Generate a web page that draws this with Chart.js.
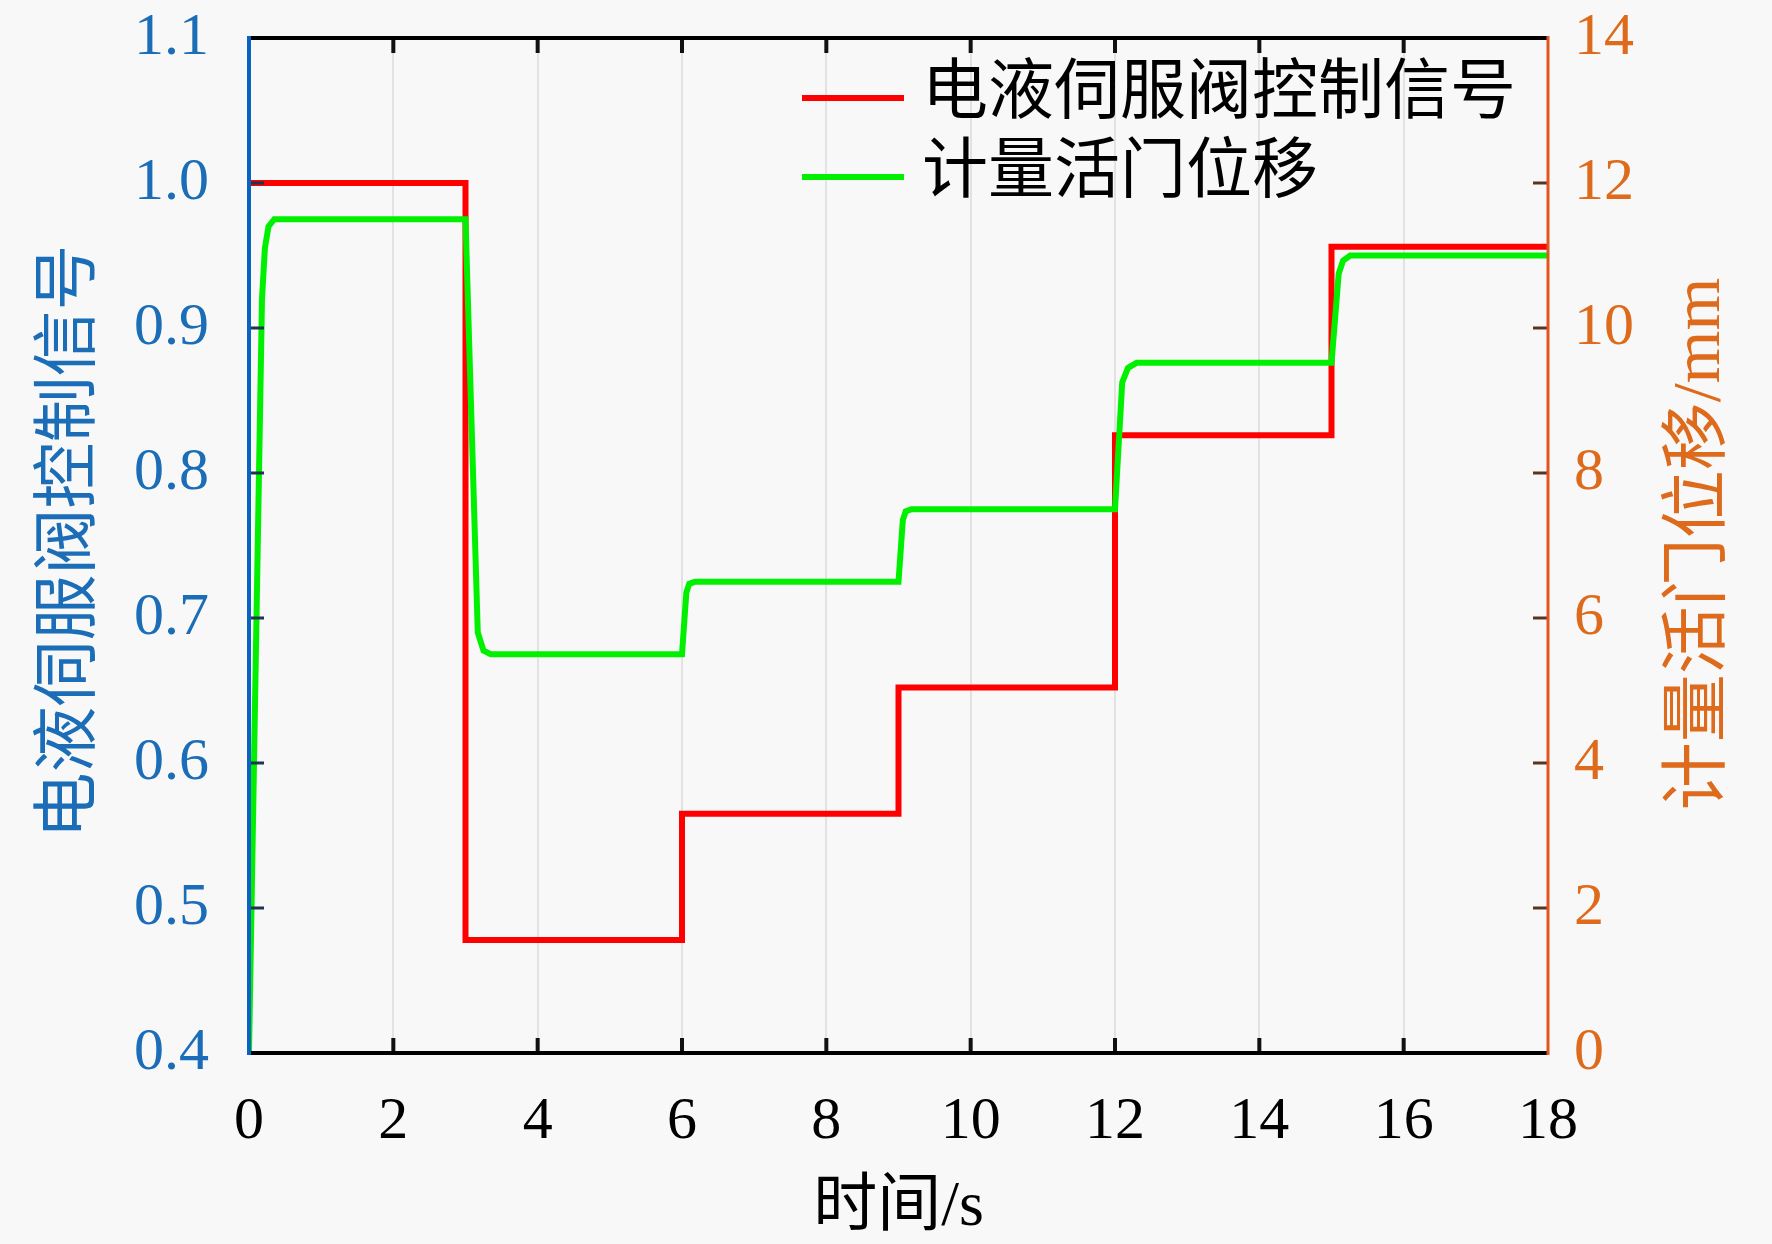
<!DOCTYPE html>
<html>
<head>
<meta charset="utf-8">
<title>电液伺服阀控制信号 / 计量活门位移</title>
<script src="https://cdn.jsdelivr.net/npm/chart.js@4/dist/chart.umd.min.js"></script>
<style>
  html, body { margin: 0; padding: 0; background: #f8f8f8; }
  #wrap { width: 1772px; height: 1244px; position: relative; }
</style>
</head>
<body>
<div id="wrap"><canvas id="chart"></canvas></div>
<script>
// control signal (left axis)
const signalTime = [0, 3, 3, 6, 6, 9, 9, 12, 12, 15, 15, 18];
const signalValue = [1.0, 1.0, 0.478, 0.478, 0.565, 0.565, 0.652, 0.652, 0.826, 0.826, 0.956, 0.956];

// metering valve displacement, mm (right axis)
const valveTime = [0, 0.18, 0.22, 0.27, 0.35,
  3.0, 3.17, 3.25, 3.35,
  6.0, 6.06, 6.1, 6.18,
  9.0, 9.06, 9.1, 9.18,
  12.0, 12.1, 12.18, 12.3,
  15.0, 15.1, 15.16, 15.26, 18];
const valveValue = [0, 10.4, 11.1, 11.4, 11.5,
  11.5, 5.8, 5.55, 5.5,
  5.5, 6.35, 6.47, 6.5,
  6.5, 7.35, 7.47, 7.5,
  7.5, 9.25, 9.45, 9.52,
  9.52, 10.75, 10.93, 11.0, 11.0];

const xTicks = [0, 2, 4, 6, 8, 10, 12, 14, 16, 18];
const leftTicks = [0.4, 0.5, 0.6, 0.7, 0.8, 0.9, 1.0, 1.1];
const rightTicks = [0, 2, 4, 6, 8, 10, 12, 14];

const seriesNames = ['电液伺服阀控制信号', '计量活门位移'];
const leftTitle = '电液伺服阀控制信号';
const rightTitle = '计量活门位移/mm';
const xTitle = '时间/s';

const RED = '#ff0000', GREEN = '#00f000';
const BLUE = '#1a6db6', ORANGE = '#de6a1c';
const NUM_FONT = '"Liberation Serif", "Noto Sans CJK SC", serif';

const toPoints = (xs, ys) => xs.map((x, i) => ({ x, y: ys[i] }));

// fixed axis box sizes so the plot area lands where the figure has it
const fixBox = (w, h) => s => {
  if (w != null) s.width = w;
  if (h != null) s.height = h;
  s.paddingTop = 0; s.paddingBottom = 0;
  s.paddingLeft = 0; s.paddingRight = 0;
};

// background
const bgPlugin = {
  id: 'bg',
  beforeDraw(chart) {
    const c = chart.ctx;
    c.save();
    c.fillStyle = '#f8f8f8';
    c.fillRect(0, 0, chart.width, chart.height);
    c.restore();
  }
};

// frame, inward ticks, legend, axis titles
const framePlugin = {
  id: 'frame',
  afterDatasetsDraw(chart) {
    const c = chart.ctx;
    const { left, right, top, bottom } = chart.chartArea;
    const sx = chart.scales.x, sy = chart.scales.y, sy1 = chart.scales.y1;
    c.save();
    c.lineCap = 'butt';

    // ticks
    const tl = 15;
    c.strokeStyle = '#111';
    c.lineWidth = 4;
    xTicks.slice(1, -1).forEach(v => {
      const px = sx.getPixelForValue(v);
      c.beginPath();
      c.moveTo(px, bottom); c.lineTo(px, bottom - tl);
      c.moveTo(px, top); c.lineTo(px, top + tl);
      c.stroke();
    });
    c.lineWidth = 3;
    c.strokeStyle = '#1c3550';
    leftTicks.slice(1, -1).forEach(v => {
      const py = sy.getPixelForValue(v);
      c.beginPath(); c.moveTo(left, py); c.lineTo(left + tl, py); c.stroke();
    });
    c.strokeStyle = '#5a3420';
    rightTicks.slice(1, -1).forEach(v => {
      const py = sy1.getPixelForValue(v);
      c.beginPath(); c.moveTo(right, py); c.lineTo(right - tl, py); c.stroke();
    });

    // frame
    c.lineWidth = 4;
    c.strokeStyle = '#000';
    c.beginPath();
    c.moveTo(left, top); c.lineTo(right, top);
    c.moveTo(left, bottom); c.lineTo(right, bottom);
    c.stroke();
    c.strokeStyle = '#0a62c2';
    c.beginPath(); c.moveTo(left, top - 2); c.lineTo(left, bottom + 2); c.stroke();
    c.lineWidth = 3;
    c.strokeStyle = '#e0561c';
    c.beginPath(); c.moveTo(right, top - 2); c.lineTo(right, bottom + 2); c.stroke();

    // legend
    const legendY = [98, 177];
    [RED, GREEN].forEach((col, i) => {
      c.strokeStyle = col;
      c.lineWidth = 6;
      c.beginPath(); c.moveTo(802, legendY[i]); c.lineTo(904, legendY[i]); c.stroke();
      c.fillStyle = '#000';
      c.font = '66px ' + NUM_FONT;
      c.textAlign = 'left';
      c.textBaseline = 'middle';
      c.fillText(seriesNames[i], 922, legendY[i] - 2);
    });

    // axis titles
    c.textAlign = 'center';
    c.textBaseline = 'middle';
    c.font = '66px ' + NUM_FONT;
    c.save();
    c.translate(72, (top + bottom) / 2 - 4);
    c.rotate(-Math.PI / 2);
    c.fillStyle = BLUE;
    c.fillText(leftTitle, 0, 0);
    c.restore();
    c.font = '68px ' + NUM_FONT;
    c.save();
    c.translate(1701, 544);
    c.rotate(-Math.PI / 2);
    c.fillStyle = ORANGE;
    c.fillText(rightTitle, 0, 0);
    c.restore();
    c.font = '64px ' + NUM_FONT;
    c.fillStyle = '#000';
    c.fillText(xTitle, (left + right) / 2, 1208);

    c.restore();
  }
};

new Chart(document.getElementById('chart'), {
  type: 'line',
  data: {
    datasets: [
      {
        label: seriesNames[0],
        data: toPoints(signalTime, signalValue),
        borderColor: RED,
        borderWidth: 6,
        pointRadius: 0,
        tension: 0,
        yAxisID: 'y',
        order: 1
      },
      {
        label: seriesNames[1],
        data: toPoints(valveTime, valveValue),
        borderColor: GREEN,
        borderWidth: 6,
        pointRadius: 0,
        tension: 0,
        yAxisID: 'y1',
        order: 0
      }
    ]
  },
  options: {
    responsive: true,
    maintainAspectRatio: false,
    animation: false,
    layout: { padding: { top: 38, left: 0, right: 0, bottom: 0 } },
    plugins: { legend: { display: false }, tooltip: { enabled: false } },
    scales: {
      x: {
        type: 'linear',
        min: 0, max: 18,
        afterBuildTicks: s => { s.ticks = xTicks.map(v => ({ value: v })); },
        afterFit: fixBox(null, 191),
        ticks: { font: { family: NUM_FONT, size: 60 }, color: '#000', padding: 33 },
        grid: { color: '#e2e2e2', lineWidth: 2, drawTicks: false },
        border: { display: false }
      },
      y: {
        position: 'left',
        min: 0.4, max: 1.1,
        afterBuildTicks: s => { s.ticks = leftTicks.map(v => ({ value: v })); },
        afterFit: fixBox(249, null),
        ticks: { font: { family: NUM_FONT, size: 60 }, color: BLUE, padding: 40, callback: v => v.toFixed(1) },
        grid: { display: false, drawTicks: false },
        border: { display: false }
      },
      y1: {
        position: 'right',
        min: 0, max: 14,
        afterBuildTicks: s => { s.ticks = rightTicks.map(v => ({ value: v })); },
        afterFit: fixBox(224, null),
        ticks: { font: { family: NUM_FONT, size: 60 }, color: ORANGE, padding: 26 },
        grid: { display: false, drawTicks: false },
        border: { display: false }
      }
    }
  },
  plugins: [bgPlugin, framePlugin]
});
</script>
</body>
</html>
